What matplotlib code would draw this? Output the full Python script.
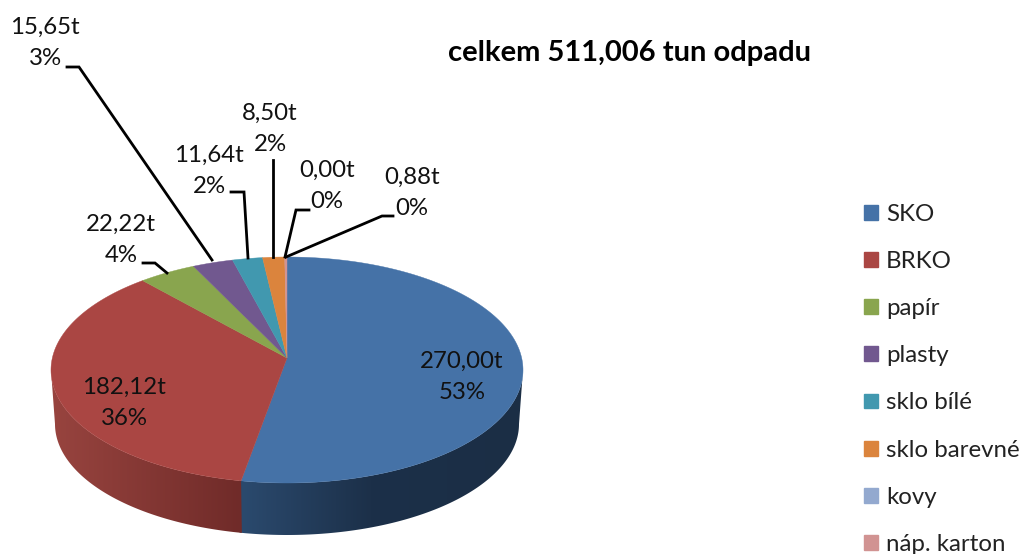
import numpy as np
import matplotlib
matplotlib.use("Agg")
import matplotlib.pyplot as plt
from matplotlib.colors import to_rgb
from matplotlib.patches import Patch, Polygon

names = ["SKO", "BRKO", "papír", "plasty", "sklo bílé", "sklo barevné", "kovy", "náp. karton"]
tons = [270.00, 182.12, 22.22, 15.65, 11.64, 8.50, 0.00, 0.88]
percents = [53, 36, 4, 3, 2, 2, 0, 0]
title = "celkem 511,006 tun odpadu"

colors = ["#4572A7", "#AA4643", "#89A54E", "#71588F", "#4198AF", "#DB843D", "#93A9CF", "#D19392"]

plt.rcParams["font.family"] = ["Lato", "DejaVu Sans"]

fig = plt.figure(figsize=(10.24, 5.54), dpi=100)
ax = fig.add_axes([0, 0, 1, 1])
ax.axis("off")

# top ellipse, bottom ellipse (pixels), apex sits above the ellipse centre
cx, cy, rx, ry = 287, 370, 236, 113
bx, by, brx, bry = 287, 424, 232, 111
apex_y = 358


def top_rim(t):
    return cx + rx * np.sin(t), cy - ry * np.cos(t)


def bottom_rim(t):
    return bx + brx * np.sin(t), by - bry * np.cos(t)


# tilt squeezes the far slices and widens the near ones
edges = 2 * np.pi * np.concatenate([[0], np.cumsum(tons)]) / np.sum(tons)
edges = edges - np.radians(5.7) * np.sin(edges)

# side wall, shading changes from left to right
side_shades = {0: (["#2b4a6e", "#1c3049", "#1b2e45"], [241, 370, 522]),
               1: (["#98443f", "#702b29"], [51, 241])}
for i in [0, 1]:
    t0 = max(edges[i], np.pi / 2)
    t1 = min(edges[i + 1], 3 * np.pi / 2)
    if i == 0:
        t1 = t1 + 0.01  # goes under the next slice, no seam
    ts = np.linspace(t0, t1, 200)
    xt, yt = top_rim(ts)
    xb, yb = bottom_rim(ts[::-1])
    rgb = np.array([to_rgb(c) for c in side_shades[i][0]])
    left, right = min(xt.min(), xb.min()), max(xt.max(), xb.max())
    grid = np.linspace(left, right, 300)
    shade = np.stack([np.interp(grid, side_shades[i][1], rgb[:, k]) for k in range(3)], axis=-1)
    im = ax.imshow(shade[np.newaxis, :, :], extent=(left, right, yb.max() + 2, yt.min() - 2),
                   aspect="auto", interpolation="bilinear")
    clip = Polygon(np.c_[np.r_[xt, xb], np.r_[yt, yb]], transform=ax.transData)
    im.set_clip_path(clip)

ax.set_xlim(0, 1024)
ax.set_ylim(554, 0)

# top face
for i in range(len(tons)):
    if tons[i] == 0:
        continue
    tt = np.linspace(edges[i], edges[i + 1], 200)
    xt, yt = top_rim(tt)
    ax.fill(np.r_[cx, xt], np.r_[apex_y, yt], color=colors[i], lw=0.3)

# labels, (x, y) is the centre of the two lines
label_pos = [(462, 377), (124, 403), (121, 240), (45, 43), (209, 171), (270, 129), (327, 186), (412, 193)]
for i in range(len(tons)):
    s = "%.2ft\n%d%%" % (tons[i], percents[i])
    ax.text(label_pos[i][0], label_pos[i][1], s.replace(".", ","), ha="center", va="center",
            fontsize=17.3, color="#111111", linespacing=1.55)

# leader lines
leaders = [
    ([143, 155, 167], [263, 263, 273]),
    ([67, 79, 212], [67, 67, 260]),
    ([231, 244, 248], [192, 192, 258]),
    ([273, 273], [160, 257]),
    ([309, 296, 285], [210, 210, 257]),
    ([393, 382, 286], [216, 216, 257]),
]
for xs, ys in leaders:
    ax.plot(xs, ys, color="black", lw=2.0, solid_joinstyle="miter")

ax.text(630, 53, title, ha="center", va="center", fontsize=21, fontweight="bold", color="black")

handles = [Patch(color=c, label=n) for c, n in zip(colors, names)]
ax.legend(handles=handles, loc="upper left", bbox_to_anchor=(864, 204), bbox_transform=ax.transData,
          frameon=False, fontsize=17.3, handlelength=0.58, handleheight=0.58, handletextpad=0.33,
          labelspacing=1.087, borderpad=0, borderaxespad=0, labelcolor="#222222")

fig.savefig("out.png", dpi=100)
